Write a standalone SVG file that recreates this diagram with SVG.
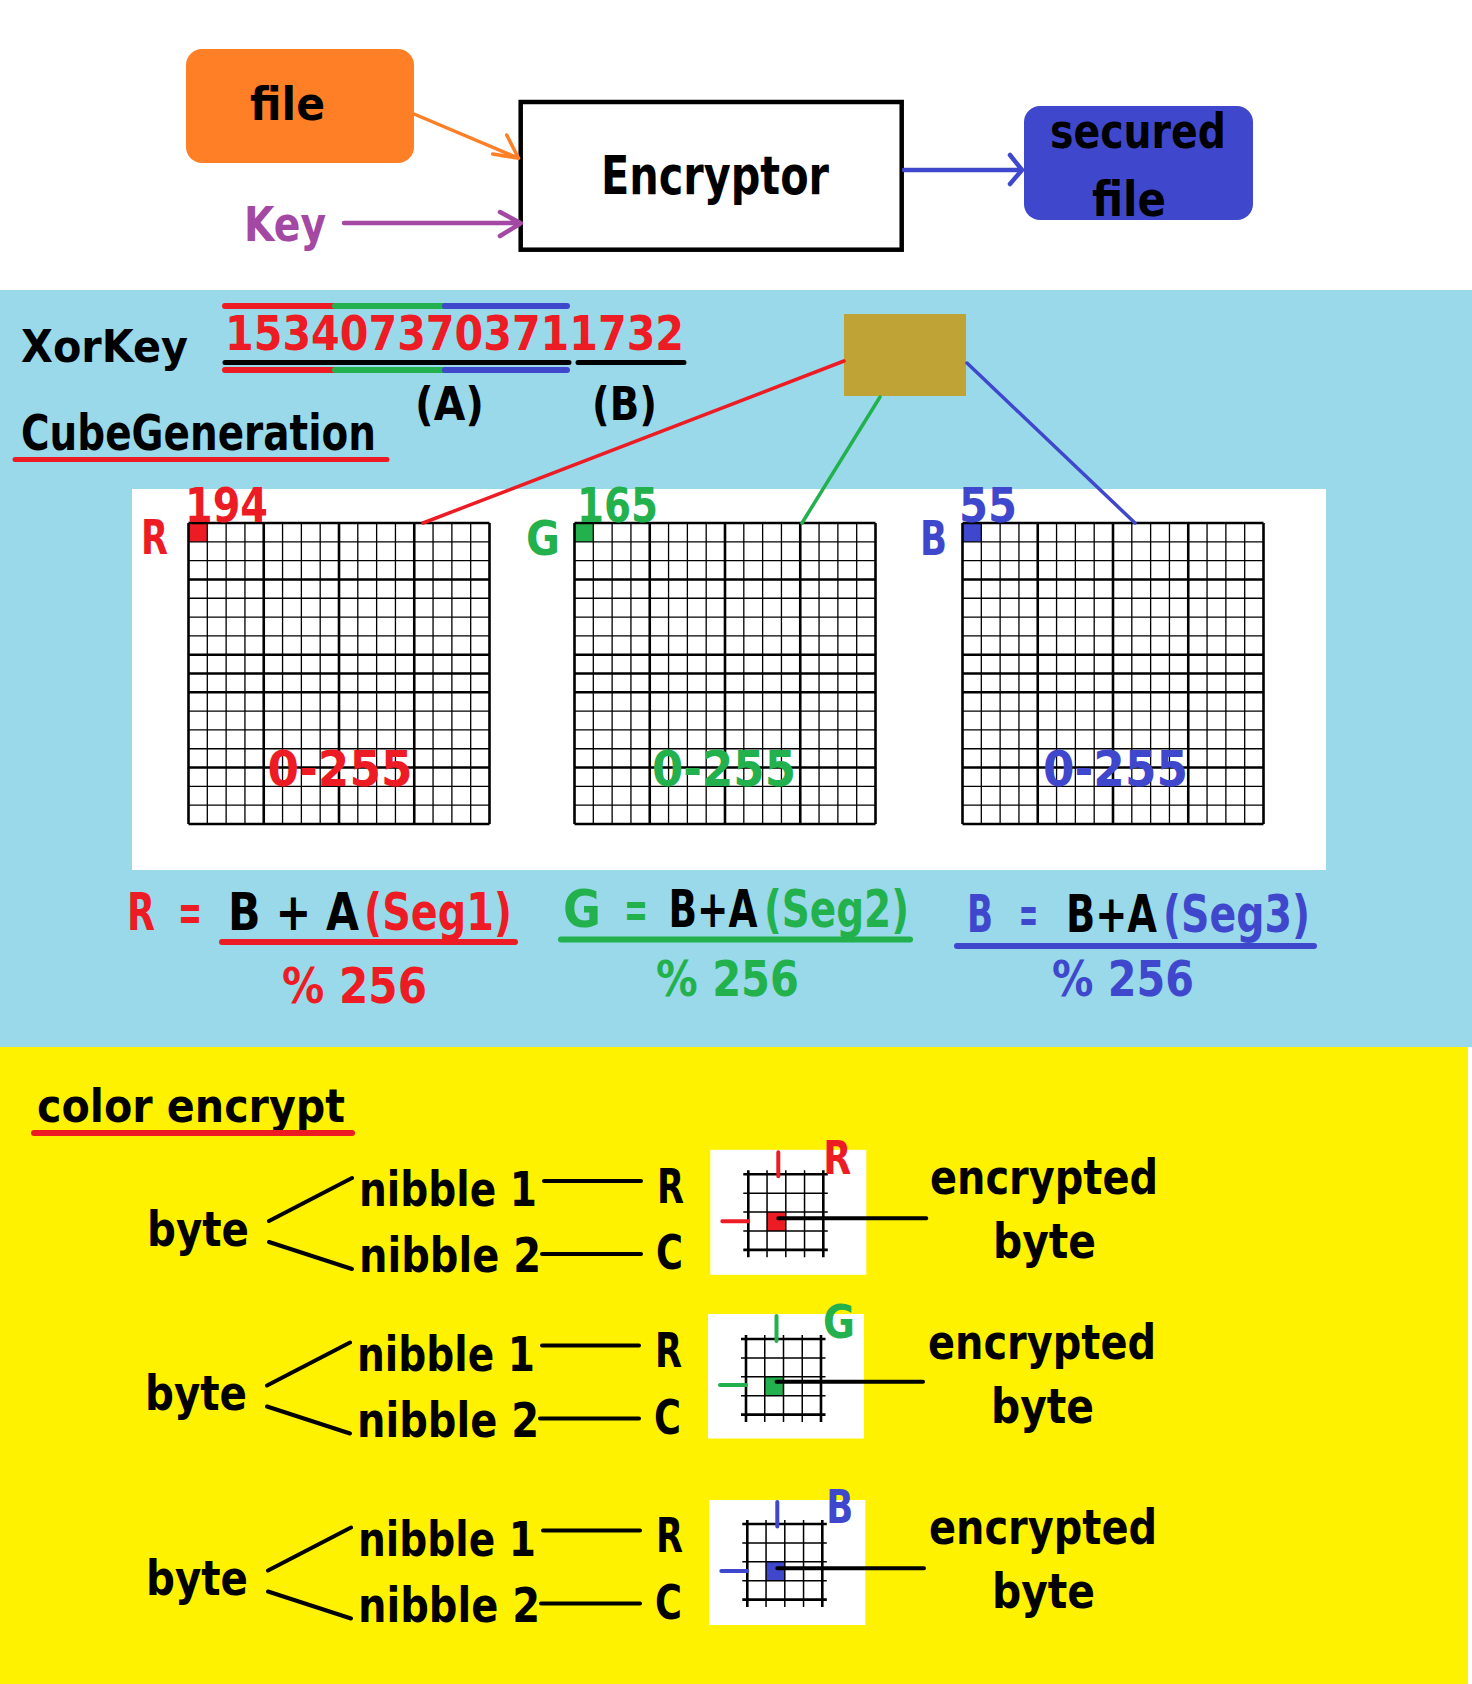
<svg xmlns="http://www.w3.org/2000/svg" width="1472" height="1684" viewBox="0 0 1472 1684">
<style>
text{font-family:"DejaVu Sans","Liberation Sans",sans-serif;font-weight:bold;}
.k{fill:#000}.r{fill:#ED1C24}.g{fill:#22B14C}.b{fill:#3F48CC}.p{fill:#A349A4}
.thin{stroke:#000;stroke-width:1.3;fill:none}
.mthin{stroke:#000;stroke-width:1.5;fill:none}
.thick{stroke:#000;stroke-width:2.6;fill:none}
.ln{fill:none;stroke-linecap:round;stroke-linejoin:round}
.sr{stroke:#ED1C24}.sg{stroke:#22B14C}.sb{stroke:#3F48CC}.sk{stroke:#000}
</style>
<defs>
<g id="cube">
<path class="thin" d="M18.81,0V301M37.63,0V301M56.44,0V301M94.06,0V301M112.88,0V301M131.69,0V301M169.31,0V301M188.13,0V301M206.94,0V301M244.56,0V301M263.38,0V301M282.19,0V301M0,18.81H301M0,37.63H301M0,75.25H301M0,94.06H301M0,112.88H301M0,188.13H301M0,206.94H301M0,225.75H301M0,263.38H301M0,282.19H301"/>
<path class="thick" d="M0,0V301M75.25,0V301M150.5,0V301M225.75,0V301M301,0V301M0,0H301M0,56.44H301M0,131.69H301M0,150.5H301M0,169.31H301M0,244.56H301M0,301H301"/>
</g>
<g id="mini">
<path class="mthin" d="M18.75,-4V83M37.5,-4V83M56.25,-4V83M-5,18.9H79.5M-5,37.8H79.5M-5,56.7H79.5"/>
<path class="thick" d="M0,-4V83M75,-4V83M-5,0H79.5M-5,75.6H79.5"/>
</g>
</defs>

<rect x="0" y="0" width="1472" height="1684" fill="#fff"/>
<rect x="0" y="290" width="1472" height="757" fill="#99D9EA"/>
<rect x="0" y="1047" width="1468" height="637" fill="#FFF200"/>
<rect x="132" y="489" width="1194" height="381" fill="#fff"/>

<!-- top flow -->
<g id="node-file">
<rect x="186" y="49" width="228" height="114" rx="16" fill="#FF7F27"/>
<text class="k" x="250" y="120" font-size="46" textLength="75" lengthAdjust="spacingAndGlyphs">file</text>
</g>
<g id="node-key">
<text class="p" x="244" y="241" font-size="48" textLength="82" lengthAdjust="spacingAndGlyphs">Key</text>
</g>
<g id="node-encryptor">
<rect x="520.7" y="102" width="381" height="147.7" fill="#fff" stroke="#000" stroke-width="4.5"/>
<text class="k" x="601" y="194" font-size="53" textLength="228" lengthAdjust="spacingAndGlyphs">Encryptor</text>
</g>
<g id="node-secured">
<rect x="1024" y="106" width="229" height="114" rx="16" fill="#3F48CC"/>
<text class="k" x="1050" y="148" font-size="48" textLength="176" lengthAdjust="spacingAndGlyphs">secured</text>
<text class="k" x="1092" y="216" font-size="48" textLength="74" lengthAdjust="spacingAndGlyphs">file</text>
</g>

<!-- cube generation section -->
<g id="node-xorkey">
<text class="k" x="21" y="362" font-size="44" textLength="167" lengthAdjust="spacingAndGlyphs">XorKey</text>
<path class="ln sr" stroke-width="6" d="M225,306H335"/>
<path class="ln sg" stroke-width="6" d="M335,306H445"/>
<path class="ln sb" stroke-width="6" d="M445,306H567"/>
<text class="r" x="225" y="350" font-size="48" textLength="459" lengthAdjust="spacingAndGlyphs">1534073703711732</text>
<path class="ln sk" stroke-width="5" d="M225,362.5H569M578,362.5H684"/>
<path class="ln sr" stroke-width="6" d="M225,370H335"/>
<path class="ln sg" stroke-width="6" d="M335,370H445"/>
<path class="ln sb" stroke-width="6" d="M445,370H567"/>
<text class="k" x="415" y="420" font-size="46" textLength="69" lengthAdjust="spacingAndGlyphs">(A)</text>
<text class="k" x="592" y="420" font-size="46" textLength="65" lengthAdjust="spacingAndGlyphs">(B)</text>
</g>
<g id="node-cubegeneration">
<text class="k" x="21" y="450" font-size="50" textLength="355" lengthAdjust="spacingAndGlyphs">CubeGeneration</text>
<path class="ln sr" stroke-width="5" d="M15,459.5H387"/>
</g>
<g id="node-seed">
<rect x="844" y="314" width="122" height="82" fill="#C0A337"/>
</g>

<g id="node-cube-r">
<rect x="188.5" y="523" width="18.8" height="18.8" fill="#ED1C24"/>
<use href="#cube" x="188.5" y="523"/>
<text class="r" x="141" y="554" font-size="48" textLength="27" lengthAdjust="spacingAndGlyphs">R</text>
<text class="r" x="185" y="522" font-size="48" textLength="83" lengthAdjust="spacingAndGlyphs">194</text>
<text class="r" x="267.5" y="786" font-size="50" textLength="145" lengthAdjust="spacingAndGlyphs">0-255</text>
</g>
<g id="node-cube-g">
<rect x="574.5" y="523" width="18.8" height="18.8" fill="#22B14C"/>
<use href="#cube" x="574.5" y="523"/>
<text class="g" x="526" y="555" font-size="48" textLength="34" lengthAdjust="spacingAndGlyphs">G</text>
<text class="g" x="577" y="522" font-size="48" textLength="81" lengthAdjust="spacingAndGlyphs">165</text>
<text class="g" x="652" y="786" font-size="50" textLength="144" lengthAdjust="spacingAndGlyphs">0-255</text>
</g>
<g id="node-cube-b">
<rect x="962.5" y="523" width="18.8" height="18.8" fill="#3F48CC"/>
<use href="#cube" x="962.5" y="523"/>
<text class="b" x="920" y="555" font-size="48" textLength="27" lengthAdjust="spacingAndGlyphs">B</text>
<text class="b" x="959" y="522" font-size="48" textLength="58" lengthAdjust="spacingAndGlyphs">55</text>
<text class="b" x="1043" y="786" font-size="50" textLength="145" lengthAdjust="spacingAndGlyphs">0-255</text>
</g>

<g id="node-formula-r">
<text class="r" x="127" y="930" font-size="52" textLength="28" lengthAdjust="spacingAndGlyphs">R</text>
<text class="r" x="178" y="930" font-size="52" textLength="24" lengthAdjust="spacingAndGlyphs">=</text>
<text class="k" x="228" y="930" font-size="52" textLength="131" lengthAdjust="spacingAndGlyphs">B + A</text>
<text class="r" x="364" y="930" font-size="52" textLength="148" lengthAdjust="spacingAndGlyphs">(Seg1)</text>
<path class="ln sr" stroke-width="6" d="M222,942H515"/>
<text class="r" x="282" y="1003" font-size="50" textLength="145" lengthAdjust="spacingAndGlyphs">% 256</text>
</g>
<g id="node-formula-g">
<text class="g" x="563" y="927" font-size="52" textLength="38" lengthAdjust="spacingAndGlyphs">G</text>
<text class="g" x="624" y="927" font-size="52" textLength="24" lengthAdjust="spacingAndGlyphs">=</text>
<text class="k" x="668.5" y="927" font-size="52" textLength="89" lengthAdjust="spacingAndGlyphs">B+A</text>
<text class="g" x="764" y="927" font-size="52" textLength="145" lengthAdjust="spacingAndGlyphs">(Seg2)</text>
<path class="ln sg" stroke-width="6" d="M561,939.5H910"/>
<text class="g" x="656" y="996" font-size="50" textLength="143" lengthAdjust="spacingAndGlyphs">% 256</text>
</g>
<g id="node-formula-b">
<text class="b" x="967" y="932" font-size="52" textLength="26" lengthAdjust="spacingAndGlyphs">B</text>
<text class="b" x="1019" y="932" font-size="52" textLength="19" lengthAdjust="spacingAndGlyphs">=</text>
<text class="k" x="1066" y="932" font-size="52" textLength="91" lengthAdjust="spacingAndGlyphs">B+A</text>
<text class="b" x="1163" y="932" font-size="52" textLength="147" lengthAdjust="spacingAndGlyphs">(Seg3)</text>
<path class="ln sb" stroke-width="6" d="M957,946H1314"/>
<text class="b" x="1052" y="996" font-size="50" textLength="142" lengthAdjust="spacingAndGlyphs">% 256</text>
</g>

<!-- color encrypt section -->
<g id="node-color-encrypt">
<text class="k" x="37" y="1122" font-size="46" textLength="308" lengthAdjust="spacingAndGlyphs">color encrypt</text>
<path class="ln sr" stroke-width="6" d="M34,1133H352"/>
</g>

<g id="node-row1">
<text class="k" x="147" y="1245.5" font-size="48" textLength="102" lengthAdjust="spacingAndGlyphs">byte</text>
<text class="k" x="359" y="1206" font-size="48" textLength="178" lengthAdjust="spacingAndGlyphs">nibble 1</text>
<text class="k" x="359" y="1272" font-size="48" textLength="182" lengthAdjust="spacingAndGlyphs">nibble 2</text>
<text class="k" x="657" y="1202.5" font-size="48" textLength="27" lengthAdjust="spacingAndGlyphs">R</text>
<text class="k" x="656" y="1269" font-size="48" textLength="27" lengthAdjust="spacingAndGlyphs">C</text>
<text class="k" x="930" y="1194" font-size="48" textLength="228" lengthAdjust="spacingAndGlyphs">encrypted</text>
<text class="k" x="993" y="1258" font-size="48" textLength="103" lengthAdjust="spacingAndGlyphs">byte</text>
</g>
<g id="node-mini-r" transform="translate(748.3,1174.3)">
<rect x="-38" y="-24.5" width="156" height="125" fill="#fff"/>
<rect x="18.75" y="37.8" width="18.75" height="18.9" fill="#ED1C24"/>
<use href="#mini"/>
<path class="ln sr" stroke-width="4" d="M30,-22V2M-26,47H0"/>
<text class="r" x="75" y="0" font-size="46" textLength="28" lengthAdjust="spacingAndGlyphs">R</text>
</g>

<g id="node-row2">
<text class="k" x="145" y="1410" font-size="48" textLength="102" lengthAdjust="spacingAndGlyphs">byte</text>
<text class="k" x="357" y="1370.5" font-size="48" textLength="178" lengthAdjust="spacingAndGlyphs">nibble 1</text>
<text class="k" x="357" y="1436.5" font-size="48" textLength="182" lengthAdjust="spacingAndGlyphs">nibble 2</text>
<text class="k" x="655" y="1367" font-size="48" textLength="27" lengthAdjust="spacingAndGlyphs">R</text>
<text class="k" x="654" y="1433.5" font-size="48" textLength="27" lengthAdjust="spacingAndGlyphs">C</text>
<text class="k" x="928" y="1358.5" font-size="48" textLength="228" lengthAdjust="spacingAndGlyphs">encrypted</text>
<text class="k" x="991" y="1422.5" font-size="48" textLength="103" lengthAdjust="spacingAndGlyphs">byte</text>
</g>
<g id="node-mini-g" transform="translate(746,1339)">
<rect x="-38" y="-25" width="156" height="124.5" fill="#fff"/>
<rect x="18.75" y="37.8" width="18.75" height="18.9" fill="#22B14C"/>
<use href="#mini"/>
<path class="ln sg" stroke-width="4" d="M30.5,-23V2M-26,46H0"/>
<text class="g" x="77" y="-1" font-size="46" textLength="32" lengthAdjust="spacingAndGlyphs">G</text>
</g>

<g id="node-row3">
<text class="k" x="146" y="1595" font-size="48" textLength="102" lengthAdjust="spacingAndGlyphs">byte</text>
<text class="k" x="358" y="1555.5" font-size="48" textLength="178" lengthAdjust="spacingAndGlyphs">nibble 1</text>
<text class="k" x="358" y="1621.5" font-size="48" textLength="182" lengthAdjust="spacingAndGlyphs">nibble 2</text>
<text class="k" x="656" y="1552" font-size="48" textLength="27" lengthAdjust="spacingAndGlyphs">R</text>
<text class="k" x="655" y="1618.5" font-size="48" textLength="27" lengthAdjust="spacingAndGlyphs">C</text>
<text class="k" x="929" y="1543.5" font-size="48" textLength="228" lengthAdjust="spacingAndGlyphs">encrypted</text>
<text class="k" x="992" y="1607.5" font-size="48" textLength="103" lengthAdjust="spacingAndGlyphs">byte</text>
</g>
<g id="node-mini-b" transform="translate(747.3,1524)">
<rect x="-38" y="-24" width="156" height="125" fill="#fff"/>
<rect x="18.75" y="37.8" width="18.75" height="18.9" fill="#3F48CC"/>
<use href="#mini"/>
<path class="ln sb" stroke-width="4" d="M30,-22V2.5M-26,47H0"/>
<text class="b" x="79" y="-1" font-size="46" textLength="27" lengthAdjust="spacingAndGlyphs">B</text>
</g>

<g id="connectors" class="ln">
<path stroke="#FF7F27" stroke-width="3.5" d="M414,114L518,158M506.7,135L518.6,158.3L492.7,154"/>
<path stroke="#A349A4" stroke-width="4.5" d="M344,223H520M500,212L520.8,223.3L500,236"/>
<path stroke="#3F48CC" stroke-width="4.5" d="M904,170H1022M1010,155L1022,170L1010,184"/>
<path stroke="#ED1C24" stroke-width="3.5" d="M844,361L423,523"/>
<path stroke="#22B14C" stroke-width="3.5" d="M880,397L802,523"/>
<path stroke="#3F48CC" stroke-width="3.5" d="M967,363L1135,523"/>
<path stroke="#000" stroke-width="4" d="M269,1221L352,1178M269,1242L352,1269M544,1181H641M542,1254H641M778.3,1218.3H926.3"/>
<path stroke="#000" stroke-width="4" d="M267,1385.5L350,1342.5M267,1406.5L350,1433.5M542,1345.5H639M540,1418.5H639M776.5,1381.7H923"/>
<path stroke="#000" stroke-width="4" d="M268,1570.5L351,1527.5M268,1591.5L351,1618.5M543,1530.5H640M541,1603.5H640M777.3,1568.3H924"/>
</g>
</svg>
